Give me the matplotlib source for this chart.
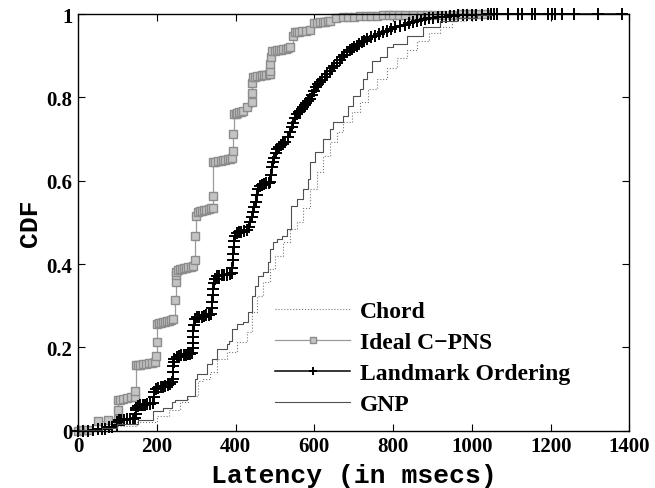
# CDF of lookup latency for Chord and the proximity-aware variants

import matplotlib.pyplot as plt
import numpy as np

# Chord (no proximity)
chord_lat = [0, 99, 150, 200, 230, 259, 280, 305, 318, 335, 353, 378, 403, 429,
             441, 455, 470, 488, 500, 521, 539, 556, 572, 589, 607, 622, 640,
             658, 673, 696, 716, 737, 760, 785, 810, 835, 860, 890, 920, 950,
             985, 1021]
chord_cdf = [0.0, 0.012, 0.02, 0.035, 0.05, 0.07, 0.084, 0.12, 0.125, 0.141,
             0.173, 0.189, 0.213, 0.237, 0.285, 0.324, 0.357, 0.388, 0.42,
             0.453, 0.484, 0.5, 0.535, 0.58, 0.621, 0.66, 0.693, 0.717, 0.741,
             0.765, 0.789, 0.82, 0.845, 0.87, 0.895, 0.915, 0.935, 0.955, 0.97,
             0.983, 0.993, 1.0]

# Ideal C-PNS
cpns_lat = [0, 12, 25, 51, 76, 102, 102, 102, 108, 115, 125, 135, 145, 145,
            148, 152, 158, 165, 172, 180, 188, 196, 198, 200, 201, 205, 210,
            215, 220, 226, 232, 237, 241, 246, 248, 248, 250, 254, 258, 263,
            268, 274, 280, 286, 292, 297, 297, 300, 304, 310, 315, 320, 326,
            332, 338, 343, 343, 343, 348, 355, 362, 368, 374, 380, 386, 391,
            393, 394, 396, 400, 405, 410, 415, 420, 430, 441, 441, 443, 445,
            450, 455, 461, 468, 473, 478, 484, 488, 488, 488, 490, 493, 499,
            505, 510, 515, 521, 527, 532, 538, 545, 550, 555, 562, 570, 580,
            589, 600, 607, 615, 622, 628, 634, 640, 655, 673, 685, 700, 715,
            730, 745, 760, 775, 790, 800, 815, 830, 850, 870, 885, 900, 925,
            950, 975, 1000, 1015, 1034]
cpns_cdf = [0.0, 0.001, 0.003, 0.024, 0.026, 0.029, 0.05, 0.074, 0.075, 0.076,
            0.078, 0.08, 0.082, 0.096, 0.158, 0.158, 0.159, 0.16, 0.161, 0.162,
            0.163, 0.165, 0.18, 0.213, 0.257, 0.258, 0.259, 0.26, 0.262, 0.263,
            0.264, 0.266, 0.269, 0.314, 0.357, 0.375, 0.381, 0.386, 0.388,
            0.389, 0.39, 0.391, 0.393, 0.394, 0.395, 0.41, 0.468, 0.516, 0.525,
            0.527, 0.528, 0.529, 0.531, 0.532, 0.534, 0.535, 0.564, 0.645,
            0.646, 0.647, 0.648, 0.649, 0.651, 0.652, 0.653, 0.655, 0.672,
            0.712, 0.76, 0.761, 0.762, 0.764, 0.765, 0.768, 0.778, 0.79, 0.81,
            0.835, 0.849, 0.85, 0.851, 0.852, 0.853, 0.854, 0.855, 0.856,
            0.857, 0.864, 0.88, 0.897, 0.911, 0.912, 0.913, 0.914, 0.915,
            0.916, 0.917, 0.918, 0.92, 0.948, 0.956, 0.957, 0.958, 0.959, 0.96,
            0.962, 0.978, 0.979, 0.98, 0.981, 0.982, 0.983, 0.984, 0.99, 0.993,
            0.994, 0.994, 0.995, 0.995, 0.996, 0.996, 0.997, 0.997, 0.997,
            0.998, 0.998, 0.998, 0.998, 0.999, 0.999, 0.999, 0.999, 1.0, 1.0,
            1.0, 1.0]

# Landmark Ordering
lmk_lat = [0, 12, 25, 38, 51, 60, 69, 78, 86, 99, 99, 104, 110, 118, 125, 132,
           140, 145, 147, 147, 148, 152, 158, 164, 170, 176, 184, 191, 193, 193,
           198, 204, 210, 216, 222, 228, 234, 238, 241, 241, 242, 243, 245, 251,
           256, 262, 268, 274, 280, 285, 289, 291, 292, 293, 293, 295, 297, 302,
           308, 314, 320, 326, 332, 337, 340, 341, 342, 343, 345, 347, 353, 359,
           365, 372, 378, 385, 391, 392, 393, 394, 395, 396, 398, 403, 409, 415,
           422, 429, 433, 437, 441, 445, 448, 451, 454, 457, 462, 467, 472, 478,
           484, 488, 490, 492, 495, 498, 502, 505, 510, 515, 520, 526, 532, 538,
           543, 547, 552, 556, 560, 564, 568, 572, 576, 580, 585, 589, 594, 600,
           605, 610, 615, 620, 626, 633, 639, 645, 651, 658, 664, 670, 676, 683,
           690, 696, 702, 709, 714, 720, 727, 734, 744, 755, 765, 775, 785, 795,
           806, 818, 829, 840, 850, 861, 870, 880, 891, 902, 913, 925, 935, 945,
           955, 965, 977, 988, 1000, 1010, 1025, 1040, 1048, 1056, 1065, 1092,
           1118, 1128, 1153, 1160, 1194, 1204, 1212, 1229, 1258, 1321, 1382]
lmk_cdf = [0.0, 0.0, 0.0, 0.002, 0.005, 0.005, 0.005, 0.008, 0.01, 0.015, 0.02,
           0.026, 0.026, 0.027, 0.028, 0.028, 0.029, 0.03, 0.04, 0.05, 0.055,
           0.06, 0.061, 0.062, 0.063, 0.064, 0.065, 0.067, 0.08, 0.093, 0.1,
           0.102, 0.104, 0.106, 0.108, 0.109, 0.112, 0.118, 0.125, 0.14, 0.155,
           0.165, 0.173, 0.178, 0.18, 0.181, 0.182, 0.183, 0.184, 0.185, 0.186,
           0.198, 0.21, 0.225, 0.24, 0.255, 0.268, 0.272, 0.273, 0.274, 0.276,
           0.277, 0.278, 0.28, 0.295, 0.31, 0.325, 0.34, 0.355, 0.365, 0.371,
           0.372, 0.373, 0.374, 0.375, 0.376, 0.378, 0.39, 0.41, 0.425, 0.44,
           0.455, 0.468, 0.475, 0.477, 0.478, 0.479, 0.481, 0.49, 0.5, 0.512,
           0.525, 0.537, 0.55, 0.565, 0.58, 0.587, 0.591, 0.593, 0.594, 0.595,
           0.598, 0.615, 0.632, 0.645, 0.655, 0.666, 0.676, 0.681, 0.685,
           0.689, 0.693, 0.705, 0.717, 0.728, 0.738, 0.75, 0.76, 0.765, 0.768,
           0.772, 0.777, 0.782, 0.787, 0.792, 0.796, 0.806, 0.815, 0.824,
           0.832, 0.837, 0.842, 0.849, 0.856, 0.863, 0.87, 0.875, 0.882, 0.889,
           0.896, 0.902, 0.909, 0.913, 0.916, 0.92, 0.923, 0.928, 0.932, 0.936,
           0.94, 0.944, 0.948, 0.952, 0.956, 0.96, 0.964, 0.968, 0.972, 0.975,
           0.978, 0.981, 0.984, 0.986, 0.988, 0.99, 0.991, 0.992, 0.993, 0.994,
           0.995, 0.996, 0.997, 0.997, 0.998, 0.998, 0.999, 0.999, 1.0, 1.0,
           1.0, 1.0, 1.0, 1.0, 1.0, 1.0, 1.0, 1.0, 1.0, 1.0, 1.0, 1.0, 1.0,
           1.0]

# GNP
gnp_lat = [0, 60, 99, 152, 191, 216, 239, 246, 276, 297, 302, 327, 340, 353,
           378, 384, 390, 403, 420, 432, 441, 450, 458, 470, 483, 488, 496, 505,
           518, 531, 540, 556, 572, 584, 589, 602, 622, 640, 648, 673, 686, 699,
           716, 724, 734, 747, 767, 785, 800, 835, 877, 920, 962, 1013, 1050]
gnp_cdf = [0.002, 0.007, 0.017, 0.026, 0.048, 0.055, 0.07, 0.074, 0.084, 0.125,
           0.137, 0.161, 0.173, 0.197, 0.209, 0.216, 0.245, 0.257, 0.261, 0.285,
           0.324, 0.348, 0.372, 0.381, 0.405, 0.436, 0.453, 0.46, 0.468, 0.484,
           0.54, 0.556, 0.58, 0.604, 0.645, 0.669, 0.7, 0.724, 0.741, 0.755,
           0.779, 0.804, 0.82, 0.844, 0.86, 0.888, 0.897, 0.921, 0.928, 0.948,
           0.969, 0.984, 0.991, 0.998, 1.0]

xticks = np.arange(0, 1401, 200)
yticks = [0, 0.2, 0.4, 0.6, 0.8, 1]
ytick_labels = ["0", "0.2", "0.4", "0.6", "0.8", "1"]

tick_font = {"family": "Liberation Serif", "weight": "bold", "size": 15}
label_font = {"family": "Liberation Mono", "weight": "bold", "size": 19}

fig = plt.figure(figsize=(6.55, 4.89), dpi=100)
ax = fig.add_axes([0.119, 0.117, 0.842, 0.852])

ax.plot(chord_lat, chord_cdf, drawstyle="steps-post", ls=":", lw=0.8,
        color="#7a7a7a", label="Chord")
ax.plot(cpns_lat, cpns_cdf, drawstyle="steps-post", lw=0.9, color="#9a9a9a",
        marker="s", ms=6, mfc="#c4c4c4", mec="#8c8c8c", mew=1.0,
        clip_on=False, label="Ideal C\u2212PNS")
ax.plot(lmk_lat, lmk_cdf, drawstyle="steps-post", lw=1.1, color="black",
        marker="+", ms=8, mew=1.4, clip_on=False, label="Landmark Ordering")
ax.plot(gnp_lat, gnp_cdf, drawstyle="steps-post", lw=0.8, color="#505050",
        label="GNP")

ax.set_xlim(0, 1400)
ax.set_ylim(0, 1)
ax.set_xticks(xticks)
ax.set_yticks(yticks)
ax.set_xticklabels([str(t) for t in xticks], fontdict=tick_font)
ax.set_yticklabels(ytick_labels, fontdict=tick_font)
ax.tick_params(direction="in", length=5, width=0.8, top=True, right=True,
               pad=4)
for sp in ax.spines.values():
    sp.set_linewidth(1.0)

ax.set_xlabel("Latency (in msecs)", fontdict=label_font, labelpad=5)
ax.set_ylabel("CDF", fontdict=label_font, labelpad=3)

leg = ax.legend(loc="upper left", frameon=False, numpoints=1,
                handlelength=3.2, handletextpad=0.4, labelspacing=0.4,
                borderpad=0, borderaxespad=0, markerscale=0.65,
                prop={"family": "Liberation Serif", "weight": "bold",
                      "size": 17},
                bbox_to_anchor=(0.357, 0.313))

plt.savefig("out.png", dpi=100)
plt.close()
